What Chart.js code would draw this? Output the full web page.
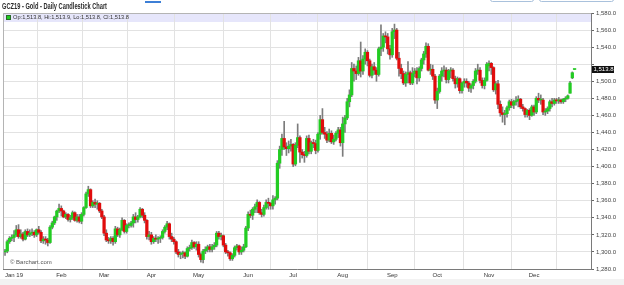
<!DOCTYPE html>
<html>
<head>
<meta charset="utf-8">
<script src="https://cdn.jsdelivr.net/npm/chart.js@4.4.1/dist/chart.umd.min.js"></script>
<style>
  html, body { margin: 0; padding: 0; background: #fff; }
  #wrap { width: 624px; height: 285px; }
</style>
</head>
<body>
<div id="wrap"><canvas id="gold-chart" width="624" height="285"></canvas></div>
<script>
// x is the trading-day index, 0 = Jan 2 2019 (first bars are Dec 26-31 2018)
const firstIndex = -4;

const monthLabels = ["Jan 19", "Feb", "Mar", "Apr", "May", "Jun", "Jul", "Aug", "Sep", "Oct", "Nov", "Dec"];
const monthStarts = [0, 21, 40, 61, 82, 104, 124, 146, 168, 188, 211, 231];

const open = [
  1300, 1301, 1312, 1316,
  1317, 1320, 1326, 1318, 1321, 1315, 1324, 1320, 1322, 1323, 1320, 1326, 1323, 1313, 1315, 1314, 1311, 1329, 1334, 1341, 1348,
  1351, 1348, 1341, 1344, 1338, 1340, 1346, 1337, 1341, 1336, 1344, 1352, 1368, 1373, 1354, 1358, 1356, 1357, 1348,
  1341, 1322, 1314, 1313, 1316, 1312, 1327, 1320, 1326, 1337, 1324, 1331, 1331, 1334, 1341, 1338, 1341, 1350, 1343, 1337, 1318,
  1320, 1312, 1316, 1315, 1316, 1317, 1324, 1329, 1333, 1318, 1315, 1312, 1300, 1297, 1298, 1299, 1295, 1304, 1305, 1311, 1306,
  1309, 1297, 1291, 1301, 1303, 1306, 1303, 1306, 1308, 1322, 1318, 1319, 1308, 1300, 1299, 1292, 1296, 1305, 1307, 1300, 1302, 1306,
  1328, 1344, 1343, 1350, 1353, 1358, 1346, 1344, 1352, 1358, 1357, 1354, 1361, 1363, 1404, 1420, 1433, 1423, 1421, 1424,
  1426, 1403, 1425, 1434, 1417, 1414, 1413, 1433, 1418, 1428, 1427, 1419, 1438, 1455, 1440, 1438, 1431, 1439, 1429, 1432, 1439, 1443,
  1428, 1450, 1457, 1476, 1484, 1515, 1512, 1509, 1524, 1512, 1526, 1534, 1524, 1507, 1517, 1513, 1508, 1538, 1540, 1553, 1552, 1538,
  1531, 1558, 1560, 1527, 1515, 1509, 1498, 1508, 1510, 1498, 1509, 1512, 1504, 1515, 1525, 1532, 1541, 1513, 1514, 1506,
  1478, 1488, 1506, 1512, 1513, 1502, 1512, 1513, 1503, 1497, 1503, 1489, 1498, 1500, 1498, 1492, 1495, 1500, 1512, 1513, 1501, 1495, 1501,
  1518, 1521, 1516, 1490, 1497, 1473, 1463, 1461, 1462, 1469, 1476, 1472, 1476, 1477, 1479, 1470, 1468, 1461, 1466, 1460,
  1470, 1464, 1480, 1478, 1478, 1464, 1465, 1468, 1476, 1474, 1478, 1477, 1478, 1476, 1479, 1480, 1486, 1504, 1513.8
];
const high = [
  1303, 1314, 1318, 1320,
  1325, 1331, 1332, 1326, 1323, 1326, 1327, 1326, 1327, 1325, 1327, 1330, 1325, 1318, 1318, 1316, 1331, 1336, 1342, 1349, 1356,
  1354, 1349, 1346, 1345, 1343, 1348, 1347, 1344, 1344, 1346, 1353, 1370, 1377, 1374, 1360, 1362, 1360, 1358, 1350,
  1343, 1326, 1317, 1318, 1318, 1330, 1329, 1328, 1340, 1338, 1333, 1334, 1336, 1344, 1346, 1343, 1352, 1351, 1346, 1338, 1324,
  1323, 1318, 1320, 1318, 1319, 1326, 1331, 1336, 1334, 1322, 1317, 1313, 1303, 1300, 1301, 1300, 1306, 1308, 1314, 1312, 1312,
  1312, 1299, 1303, 1306, 1308, 1309, 1309, 1311, 1324, 1324, 1322, 1320, 1310, 1302, 1300, 1298, 1307, 1309, 1308, 1306, 1309, 1330,
  1347, 1349, 1352, 1356, 1361, 1359, 1350, 1355, 1361, 1363, 1358, 1366, 1365, 1407, 1424, 1438, 1453, 1428, 1430, 1432,
  1427, 1428, 1450, 1436, 1420, 1418, 1436, 1437, 1430, 1432, 1431, 1440, 1460, 1468, 1446, 1441, 1444, 1442, 1437, 1441, 1446, 1446,
  1458, 1460, 1480, 1490, 1522, 1520, 1518, 1528, 1546, 1530, 1538, 1536, 1526, 1520, 1522, 1516, 1540, 1566, 1556, 1558, 1556, 1542,
  1562, 1567, 1562, 1534, 1520, 1512, 1511, 1523, 1512, 1516, 1515, 1516, 1517, 1527, 1535, 1545, 1544, 1520, 1519, 1508,
  1492, 1508, 1516, 1518, 1516, 1514, 1516, 1515, 1506, 1505, 1504, 1499, 1503, 1503, 1500, 1497, 1502, 1515, 1520, 1516, 1504, 1504, 1522,
  1524, 1522, 1517, 1500, 1501, 1477, 1470, 1466, 1471, 1478, 1479, 1478, 1482, 1483, 1480, 1473, 1469, 1467, 1468, 1472,
  1472, 1482, 1486, 1484, 1480, 1468, 1470, 1478, 1480, 1480, 1480, 1481, 1479, 1480, 1482, 1484, 1500, 1511, 1513.9
];
const low = [
  1296, 1299, 1310, 1313,
  1312, 1318, 1316, 1316, 1313, 1314, 1318, 1318, 1319, 1317, 1318, 1321, 1311, 1310, 1309, 1307, 1310, 1327, 1332, 1337, 1346,
  1342, 1340, 1339, 1336, 1335, 1338, 1336, 1335, 1334, 1333, 1342, 1351, 1365, 1352, 1352, 1352, 1350, 1346, 1339,
  1319, 1312, 1310, 1310, 1308, 1310, 1318, 1317, 1325, 1322, 1322, 1328, 1329, 1329, 1334, 1335, 1340, 1340, 1334, 1315, 1314,
  1309, 1310, 1312, 1310, 1311, 1315, 1322, 1326, 1315, 1312, 1309, 1298, 1294, 1292, 1293, 1292, 1294, 1301, 1303, 1304, 1302,
  1294, 1288, 1287, 1298, 1300, 1300, 1300, 1303, 1306, 1315, 1314, 1306, 1298, 1295, 1290, 1290, 1294, 1302, 1297, 1297, 1300, 1305,
  1325, 1340, 1338, 1346, 1346, 1344, 1341, 1342, 1350, 1350, 1350, 1350, 1356, 1361, 1398, 1413, 1420, 1413, 1416, 1418,
  1400, 1401, 1422, 1405, 1410, 1405, 1411, 1415, 1415, 1422, 1415, 1417, 1432, 1438, 1433, 1428, 1429, 1427, 1426, 1430, 1434, 1424,
  1412, 1440, 1455, 1470, 1482, 1500, 1502, 1507, 1505, 1508, 1520, 1518, 1505, 1504, 1508, 1500, 1506, 1530, 1535, 1545, 1532, 1526,
  1528, 1550, 1525, 1506, 1503, 1496, 1494, 1498, 1496, 1496, 1505, 1497, 1500, 1512, 1520, 1528, 1512, 1508, 1502, 1474,
  1468, 1486, 1500, 1505, 1498, 1498, 1504, 1500, 1492, 1493, 1486, 1486, 1493, 1493, 1488, 1487, 1491, 1498, 1508, 1498, 1492, 1491, 1500,
  1512, 1508, 1488, 1485, 1468, 1459, 1452, 1449, 1458, 1466, 1469, 1468, 1472, 1470, 1468, 1465, 1458, 1458, 1455, 1459,
  1460, 1462, 1475, 1473, 1461, 1460, 1462, 1465, 1470, 1472, 1474, 1474, 1474, 1474, 1476, 1479, 1486, 1503, 1513.8
];
const close = [
  1301, 1312, 1316, 1317,
  1320, 1326, 1318, 1321, 1315, 1324, 1320, 1322, 1323, 1320, 1326, 1323, 1313, 1315, 1314, 1311, 1329, 1334, 1341, 1348, 1351,
  1348, 1341, 1344, 1338, 1340, 1346, 1337, 1341, 1336, 1344, 1352, 1368, 1373, 1354, 1358, 1356, 1357, 1348, 1341,
  1322, 1314, 1313, 1316, 1312, 1327, 1320, 1326, 1337, 1324, 1331, 1331, 1334, 1341, 1338, 1341, 1350, 1343, 1337, 1318, 1320,
  1312, 1316, 1315, 1316, 1317, 1324, 1329, 1333, 1318, 1315, 1312, 1300, 1297, 1298, 1299, 1295, 1304, 1305, 1311, 1306, 1309,
  1297, 1291, 1301, 1303, 1306, 1303, 1306, 1308, 1322, 1318, 1319, 1308, 1300, 1299, 1292, 1296, 1305, 1307, 1300, 1302, 1306, 1328,
  1344, 1343, 1350, 1353, 1358, 1346, 1344, 1352, 1358, 1357, 1354, 1361, 1363, 1404, 1420, 1433, 1423, 1421, 1424, 1426,
  1403, 1425, 1434, 1417, 1414, 1413, 1433, 1418, 1428, 1427, 1419, 1438, 1455, 1440, 1438, 1431, 1439, 1429, 1432, 1439, 1443, 1428,
  1450, 1457, 1476, 1484, 1515, 1512, 1509, 1524, 1512, 1526, 1534, 1524, 1507, 1517, 1513, 1508, 1538, 1540, 1553, 1552, 1538, 1531,
  1558, 1560, 1527, 1515, 1509, 1498, 1508, 1510, 1498, 1509, 1512, 1504, 1515, 1525, 1532, 1541, 1513, 1514, 1506, 1478,
  1488, 1506, 1512, 1513, 1502, 1512, 1513, 1503, 1497, 1503, 1489, 1498, 1500, 1498, 1492, 1495, 1500, 1512, 1513, 1501, 1495, 1501, 1520,
  1521, 1516, 1490, 1497, 1473, 1463, 1461, 1462, 1469, 1476, 1472, 1476, 1477, 1479, 1470, 1468, 1461, 1466, 1460, 1470,
  1464, 1480, 1478, 1478, 1464, 1465, 1468, 1476, 1474, 1478, 1477, 1478, 1476, 1479, 1480, 1483, 1498, 1510, 1513.8
];

const UP = "#22cc22";
const DOWN = "#e00c0c";
const FONT = '"Liberation Sans", Arial, sans-serif';

const fmt = (v, dec) => {
  const s = v.toFixed(dec);
  const [intPart, frac] = s.split(".");
  const withComma = intPart.replace(/\B(?=(\d{3})+(?!\d))/g, ",");
  return frac ? withComma + "." + frac : withComma;
};

const bodies = open.map((o, i) => ({ x: firstIndex + i, y: [o, close[i]] }));
const wicks = high.map((h, i) => ({ x: firstIndex + i, y: [low[i], h] }));
const bodyColors = open.map((o, i) => (close[i] >= o ? UP : DOWN));

const last = open.length - 1;

const decor = {
  id: "decor",
  beforeDraw(chart) {
    const { ctx, chartArea: a } = chart;
    ctx.save();
    // grey strip under the chart
    ctx.fillStyle = "#f2f2f2";
    ctx.fillRect(0, 279, chart.width, 6);
    // lavender info band at top of plot
    ctx.fillStyle = "#e6e6fb";
    ctx.fillRect(a.left, a.top, a.right - a.left, 9);
    ctx.restore();
  },
  afterDraw(chart) {
    const { ctx, chartArea: a } = chart;
    ctx.save();
    // frame
    ctx.strokeStyle = "#b4b4b4";
    ctx.lineWidth = 1;
    ctx.beginPath();
    ctx.moveTo(a.left + 0.5, a.bottom);
    ctx.lineTo(a.left + 0.5, a.top + 0.5);
    ctx.lineTo(a.right, a.top + 0.5);
    ctx.stroke();

    // page bits above the chart
    ctx.fillStyle = "#3d7fd6";
    ctx.fillRect(145, 1, 16, 2);
    ctx.strokeStyle = "#a9c1dc";
    ctx.beginPath();
    ctx.roundRect(490.5, -10, 43, 11.5, 2);
    ctx.roundRect(539.5, -10, 74, 11.5, 2);
    ctx.stroke();

    // title
    ctx.fillStyle = "#2b2b2b";
    ctx.font = "bold 9px " + FONT;
    ctx.textBaseline = "middle";
    const title = "GCZ19 - Gold - Daily Candlestick Chart";
    const tw = ctx.measureText(title).width;
    ctx.save();
    ctx.translate(2, 6.5);
    ctx.scale(105 / tw, 1);
    ctx.fillText(title, 0, 0);
    ctx.restore();

    // info band text
    ctx.fillStyle = UP;
    ctx.fillRect(6.5, 15.5, 4, 4);
    ctx.strokeStyle = "#2a6a2a";
    ctx.strokeRect(6.5, 15.5, 4, 4);
    ctx.fillStyle = "#333";
    ctx.font = "6px " + FONT;
    const info = "Op:" + fmt(open[last], 1) + ", Hi:" + fmt(high[last], 1) + ", Lo:" + fmt(low[last], 1) + ", Cl:" + fmt(close[last], 1);
    const iw = ctx.measureText(info).width;
    ctx.save();
    ctx.translate(13, 17.8);
    ctx.scale(116 / iw, 1);
    ctx.fillText(info, 0, 0);
    ctx.restore();

    // watermark
    ctx.fillStyle = "#555";
    ctx.font = "6px " + FONT;
    ctx.fillText("\u00a9 Barchart.com", 10, 262.5);

    // last price marker on the axis
    const py = chart.scales.y.getPixelForValue(close[last]);
    ctx.fillStyle = "#111";
    ctx.fillRect(592, py - 3.5, 22, 7);
    ctx.fillStyle = "#fff";
    ctx.font = "6px " + FONT;
    ctx.fillText(fmt(close[last], 1), 593.5, py + 0.3);
    ctx.restore();
  }
};

new Chart(document.getElementById("gold-chart"), {
  type: "bar",
  data: {
    datasets: [
      {
        label: "body",
        data: bodies,
        backgroundColor: bodyColors,
        borderWidth: 0,
        barThickness: 2.6,
        minBarLength: 1,
        grouped: false,
        order: 0
      },
      {
        label: "wick",
        data: wicks,
        backgroundColor: "#7c7c7c",
        borderWidth: 0,
        barThickness: 1,
        grouped: false,
        order: 1
      }
    ]
  },
  options: {
    responsive: false,
    animation: false,
    events: [],
    layout: { padding: { top: 13, left: 3, right: 0, bottom: 0 } },
    plugins: { legend: { display: false }, tooltip: { enabled: false } },
    scales: {
      x: {
        type: "linear",
        min: -4.9,
        max: 256.3,
        bounds: "data",
        offset: false,
        afterBuildTicks: (s) => { s.ticks = monthStarts.map((v) => ({ value: v })); },
        afterFit: (s) => { s.height = 16; },
        grid: { color: "#e2e2e2", drawTicks: false },
        border: { color: "#7a7a7a" },
        ticks: {
          autoSkip: false,
          maxRotation: 0,
          padding: 3,
          color: "#333",
          font: { family: FONT, size: 6 },
          callback: (v, i) => monthLabels[i]
        }
      },
      y: {
        position: "right",
        min: 1280,
        max: 1580,
        afterFit: (s) => { s.width = 33; },
        grid: { color: "#e2e2e2", tickColor: "#666", tickLength: 3 },
        border: { color: "#7a7a7a" },
        ticks: {
          stepSize: 20,
          padding: 2,
          color: "#444",
          font: { family: FONT, size: 6 },
          callback: (v) => (v === 1520 ? "" : fmt(v, 1))
        }
      }
    }
  },
  plugins: [decor]
});
</script>
</body>
</html>
